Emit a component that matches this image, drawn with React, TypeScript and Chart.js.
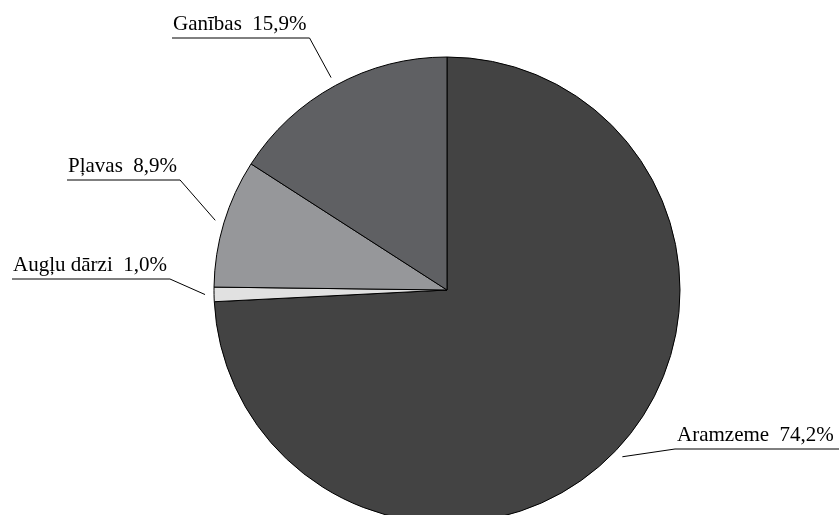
import React, { useEffect, useRef } from "react";
import { Chart, registerables } from "chart.js";

Chart.register(...registerables);

const categories = ["Aramzeme", "Augļu dārzi", "Pļavas", "Ganības"];
const shares = [74.2, 1.0, 8.9, 15.9];
const shareLabels = ["74,2%", "1,0%", "8,9%", "15,9%"];
const sliceColors = ["#434343", "#e1e1e1", "#96979a", "#5f6063"];

// label placement: text left x, baseline y, side of the pie
const labelPlaces = [
  { x: 677, y: 441, side: "right" },
  { x: 13, y: 271, side: "left" },
  { x: 68, y: 172, side: "left" },
  { x: 173, y: 30, side: "left" },
];

const FONT = "21px 'Liberation Serif', 'DejaVu Serif', serif";

const leaderPlugin = {
  id: "leaderLabels",
  afterDatasetsDraw(chart: any) {
    const ctx = chart.ctx;
    const meta = chart.getDatasetMeta(0);
    ctx.save();
    ctx.font = FONT;
    ctx.fillStyle = "#000";
    ctx.strokeStyle = "#000";
    ctx.lineWidth = 1;
    ctx.textBaseline = "alphabetic";
    meta.data.forEach((arc: any, i: number) => {
      const p = arc.getProps(["x", "y", "startAngle", "endAngle", "outerRadius"], true);
      const mid = (p.startAngle + p.endAngle) / 2;
      const r = p.outerRadius + 9;
      const ax = p.x + Math.cos(mid) * r;
      const ay = p.y + Math.sin(mid) * r;
      const text = categories[i] + "  " + shareLabels[i];
      const w = ctx.measureText(text).width;
      const place = labelPlaces[i];
      const lineY = place.y + 8;
      ctx.fillText(text, place.x, place.y);
      ctx.beginPath();
      if (place.side === "left") {
        const ex = place.x + w + 3;
        ctx.moveTo(place.x - 1, lineY);
        ctx.lineTo(ex, lineY);
        ctx.lineTo(ax, ay);
      } else {
        const ex = place.x - 2;
        ctx.moveTo(chart.width, lineY);
        ctx.lineTo(ex, lineY);
        ctx.lineTo(ax, ay);
      }
      ctx.stroke();
    });
    ctx.restore();
  },
};

export default function App() {
  const ref = useRef<HTMLCanvasElement>(null);
  useEffect(() => {
    document.body.style.margin = "0";
    if (!ref.current) return;
    const chart = new Chart(ref.current, {
      type: "pie",
      data: {
        labels: categories,
        datasets: [
          {
            data: shares,
            backgroundColor: sliceColors,
            borderColor: "#000",
            borderWidth: 1,
            radius: 233,
          } as any,
        ],
      },
      options: {
        responsive: false,
        animation: false,
        layout: { padding: { left: 214, right: 159, top: 57, bottom: 7 } },
        plugins: { legend: { display: false }, tooltip: { enabled: false } },
      },
      plugins: [leaderPlugin],
    });
    return () => chart.destroy();
  }, []);
  return (
    <div style={{ width: 839, height: 515, overflow: "hidden", background: "#fff" }}>
      <canvas ref={ref} width={839} height={530} style={{ display: "block" }} />
    </div>
  );
}
